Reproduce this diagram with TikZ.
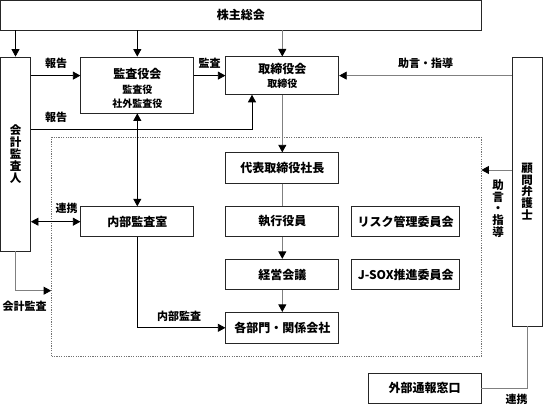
\documentclass[tikz,border=0pt]{standalone}
\usepackage{fontspec}
\setmainfont{Noto Sans CJK JP}
\usetikzlibrary{arrows.meta,calc}
\begin{document}
\begin{tikzpicture}[x=1pt,y=-1pt,
  every node/.style={font=\bfseries},
  box/.style={draw=black!85, line width=0.8pt, fill=white, inner sep=0pt, align=center, font=\fontsize{12}{14}\selectfont\bfseries},
  lbl/.style={inner sep=0pt, font=\fontsize{11}{12}\selectfont\bfseries},
  vlbl/.style={inner sep=0pt, align=center, font=\fontsize{11.5}{11.6}\selectfont\bfseries},
  ln/.style={draw=black, line width=0.8pt},
  gln/.style={draw=black!50, line width=0.8pt},
  tip/.style={-{Triangle[length=7.5pt,width=8pt,color=black]}},
  dtip/.style={{Triangle[length=7.5pt,width=8pt,color=black]}-{Triangle[length=7.5pt,width=8pt,color=black]}},
  grpbox/.style={draw=black!55, line width=0.8pt, dash pattern=on 1.2pt off 1.2pt, inner sep=0pt},
]
\useasboundingbox (0,0) rectangle (543,405);

% group (dotted)
\node[grpbox, minimum width=429.5pt, minimum height=219.4pt] (grp) at (266.25,247) {};

% boxes
\node[box, minimum width=480.5pt, minimum height=30pt] (sh) at (240.75,15) {株主総会};
\node[box, minimum width=30pt, minimum height=194pt, font=\fontsize{11.5}{12}\selectfont\bfseries] (kaikei) at (15.5,154) {会\\計\\監\\査\\人};
\node[box, minimum width=113pt, minimum height=56pt] (kansa) at (137.3,85) {};
\node[inner sep=0pt, align=center, font=\fontsize{10}{14.5}\selectfont\bfseries] (kansat) at (137.3,88.5) {{\fontsize{12}{14.5}\selectfont 監査役会}\\監査役\\社外監査役};
\node[box, minimum width=113pt, minimum height=37.5pt, font=\fontsize{10}{14}\selectfont\bfseries] (tori) at (282.3,75.6) {{\fontsize{12}{14}\selectfont 取締役会}\\取締役};
\node[box, minimum width=30pt, minimum height=269pt, font=\fontsize{11.5}{11.8}\selectfont\bfseries] (komon) at (527,191.5) {顧\\問\\弁\\護\\士};
\node[box, minimum width=113pt, minimum height=30.5pt] (daihyo) at (282.3,168) {代表取締役社長};
\node[box, minimum width=113pt, minimum height=30.5pt] (shikko) at (282.3,221.5) {執行役員};
\node[box, minimum width=113pt, minimum height=30.5pt] (keiei) at (282.3,274.5) {経営会議};
\node[box, minimum width=113pt, minimum height=31pt] (kakubu) at (282.3,327.8) {各部門・関係会社};
\node[box, minimum width=113pt, minimum height=30pt] (naibu) at (137.3,221.7) {内部監査室};
\node[box, minimum width=108pt, minimum height=30pt] (risk) at (405.7,221.5) {リスク管理委員会};
\node[box, minimum width=108pt, minimum height=30pt] (jsox) at (405.7,274.5) {J-SOX推進委員会};
\node[box, minimum width=113pt, minimum height=30pt] (gaibu) at (424.5,388.3) {外部通報窓口};

% helper coordinates
\coordinate (r2) at (252,129.3);
\coordinate (ka) at (grp.west |- 0,290.7);
\coordinate (adv) at (grp.east |- 0,170);

% connectors
\draw[ln,tip] (sh.south -| kaikei.north) -- (kaikei.north);
\draw[ln,tip] (sh.south -| kansa.north) -- (kansa.north);
\draw[gln,tip] (sh.south -| tori.north) -- (tori.north);
\draw[ln,tip] (kaikei.east |- tori.west) -- (kansa.west |- tori.west);
\draw[ln,tip] (kansa.east |- tori.west) -- (tori.west);
\draw[gln,tip] (komon.west |- tori.east) -- (tori.east);
\draw[ln,tip] (kaikei.east |- r2) -- (r2) -- (r2 |- tori.south);
\draw[gln,tip] (tori.south) -- (daihyo.north);
\draw[gln] (daihyo.south) -- (shikko.north);
\draw[gln,tip] (shikko.south) -- (keiei.north);
\draw[gln,tip] (keiei.south) -- (kakubu.north);
\draw[ln,dtip] (kansa.south) -- (naibu.north);
\draw[ln,dtip] (kaikei.east |- naibu.west) -- (naibu.west);
\draw[ln,tip] (naibu.south) |- (kakubu.west);
\draw[gln,tip] (kaikei.south) |- (ka);
\draw[gln,tip] (komon.west |- adv) -- (adv);
\draw[gln] (gaibu.east) -| (komon.south);

% labels
\node[lbl] (l1) at (56,63) {報告};
\node[lbl] (l2) at (56,117) {報告};
\node[lbl] (l3) at (209.5,63) {監査};
\node[lbl] (l4) at (425.5,63) {助言・指導};
\node[lbl] (l5) at (66.7,208.5) {連携};
\node[lbl] (l6) at (179,316) {内部監査};
\node[lbl] (l7) at (24.5,306) {会計監査};
\node[vlbl] (l8) at (498,208.5) {助\\言\\・\\指\\導};
\node[lbl] (l9) at (516.7,399.3) {連携};
\end{tikzpicture}
\end{document}
